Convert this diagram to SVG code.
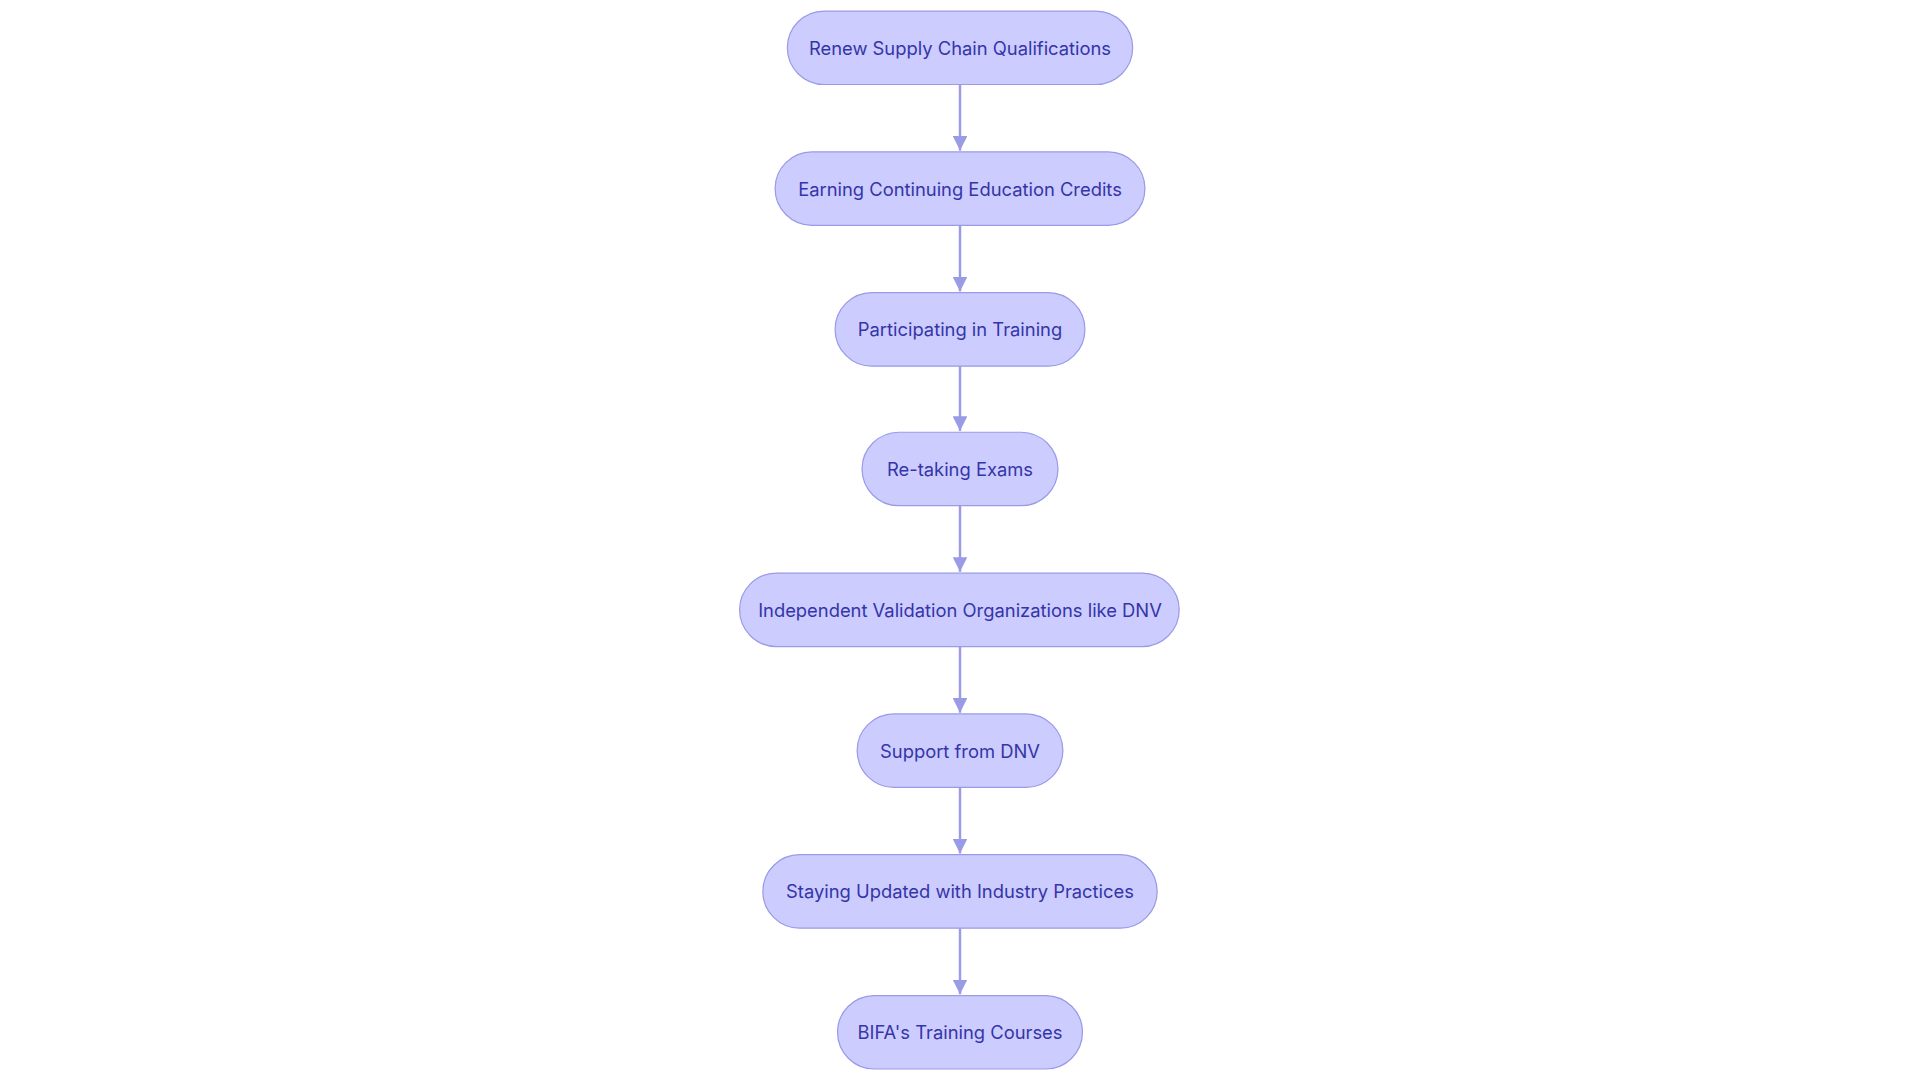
<svg xmlns="http://www.w3.org/2000/svg" width="1920" height="1080" viewBox="0 0 1920 1080">
<style>
.n rect{fill:#ccccff;stroke:#9a9ae6;stroke-width:1}
.n text{font-family:Inter,"Noto Sans",sans-serif;font-size:15px;fill:#3535a8;text-anchor:middle;dominant-baseline:central}
.c line{stroke:#9a9ae6;stroke-width:2}
</style>
<defs><marker id="a" viewBox="0 0 10 10" refX="10" refY="5" markerWidth="6" markerHeight="6" orient="auto"><path d="M0,0L10,5L0,10z" fill="#9a9ae6"/></marker></defs>
<rect width="1920" height="1080" fill="#fff"/>
<g transform="scale(1.2245)">
<g class="c">
<line x1="784" y1="69" x2="784" y2="123" marker-end="url(#a)"/>
<line x1="784" y1="184" x2="784" y2="238" marker-end="url(#a)"/>
<line x1="784" y1="299" x2="784" y2="352" marker-end="url(#a)"/>
<line x1="784" y1="413" x2="784" y2="467" marker-end="url(#a)"/>
<line x1="784" y1="528" x2="784" y2="582" marker-end="url(#a)"/>
<line x1="784" y1="643" x2="784" y2="697" marker-end="url(#a)"/>
<line x1="784" y1="758" x2="784" y2="812" marker-end="url(#a)"/>
</g>
<g id="n1" class="n"><rect x="643" y="9" width="282" height="60" rx="30"/><text x="784" y="39">Renew Supply Chain Qualifications</text></g>
<g id="n2" class="n"><rect x="633" y="124" width="302" height="60" rx="30"/><text x="784" y="154">Earning Continuing Education Credits</text></g>
<g id="n3" class="n"><rect x="682" y="239" width="204" height="60" rx="30"/><text x="784" y="269">Participating in Training</text></g>
<g id="n4" class="n"><rect x="704" y="353" width="160" height="60" rx="30"/><text x="784" y="383">Re-taking Exams</text></g>
<g id="n5" class="n"><rect x="604" y="468" width="359" height="60" rx="30"/><text x="784" y="498">Independent Validation Organizations like DNV</text></g>
<g id="n6" class="n"><rect x="700" y="583" width="168" height="60" rx="30"/><text x="784" y="613">Support from DNV</text></g>
<g id="n7" class="n"><rect x="623" y="698" width="322" height="60" rx="30"/><text x="784" y="728">Staying Updated with Industry Practices</text></g>
<g id="n8" class="n"><rect x="684" y="813" width="200" height="60" rx="30"/><text x="784" y="843">BIFA's Training Courses</text></g>
</g>
</svg>
